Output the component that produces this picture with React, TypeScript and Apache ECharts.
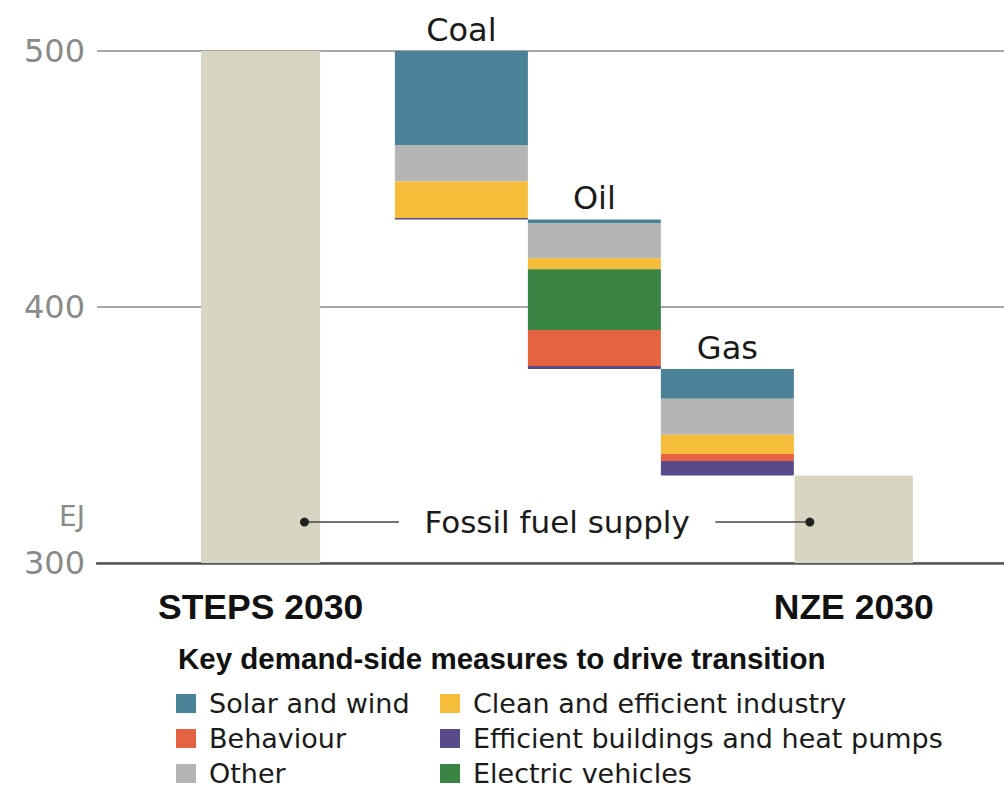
import React, { useEffect, useRef } from "react";
import * as echarts from "echarts";

// ---- data ----
const measureNames = [
  "Solar and wind",
  "Other",
  "Clean and efficient industry",
  "Electric vehicles",
  "Behaviour",
  "Efficient buildings and heat pumps",
];
const measureColors = ["#4a8298", "#b5b5b5", "#f5bd3a", "#3a8544", "#e66342", "#5b4a8b"];
const fuelNames = ["Coal", "Oil", "Gas"];
// values in EJ, same order as measureNames
const coalValues = [36.7, 14.3, 14.2, 0, 0, 0.6];
const oilValues = [1.6, 13.6, 4.3, 23.7, 14.0, 1.2];
const gasValues = [11.6, 14.1, 7.5, 0, 2.8, 5.6];
const totalLabels = ["STEPS 2030", "NZE 2030"];
const totalValues = [500, 334.2];
const yMin = 300;
const yMax = 500;
const yInterval = 100;
const unitLabel = "EJ";
const unitLabelValue = 318;
const annotationLabel = "Fossil fuel supply";
const annotationValue = 316;
const legendTitle = "Key demand-side measures to drive transition";
const legendColumn1 = ["Solar and wind", "Behaviour", "Other"];
const legendColumn2 = ["Clean and efficient industry", "Efficient buildings and heat pumps", "Electric vehicles"];

// ---- layout (x axis units: one fuel column = 1) ----
const xMax = 6.82;
const columnCenters = [1.23, 2.74, 3.74, 4.74, 5.69]; // STEPS, Coal, Oil, Gas, NZE
const columnWidths = [0.895, 1, 1, 1, 0.89];
const dotOffset = 0.33;
const annotationGap = 1.19;

const SANS = "DejaVu Sans";
const BOLD = "Liberation Sans";
const CHART_H = 860; // taller canvas, clipped to 789 by the wrapper

export default function App() {
  const ref = useRef<HTMLDivElement>(null);

  useEffect(() => {
    if (!ref.current) return;
    const chart = echarts.init(ref.current, undefined, { renderer: "svg" });

    const fuelValues = [coalValues, oilValues, gasValues];
    const measureData: number[][][] = measureNames.map(() => []);
    const fuelTops: number[][] = [];
    let level = totalValues[0];
    fuelValues.forEach((vals, f) => {
      const col = f + 1;
      fuelTops.push([col, level]);
      vals.forEach((v, m) => {
        const start = level;
        const end = level - v;
        if (v > 0) measureData[m].push([col, start, end]);
        level = end;
      });
    });

    const rectFor = (api: any, col: number, top: number, bottom: number) => {
      const c = columnCenters[col];
      const w = columnWidths[col];
      const p0 = api.coord([c - w / 2, top]);
      const p1 = api.coord([c + w / 2, bottom]);
      return { x: p0[0], y: p0[1], width: p1[0] - p0[0], height: p1[1] - p0[1] };
    };

    const measureSeries = measureNames.map((name, m) => ({
      type: "custom",
      name,
      itemStyle: { color: measureColors[m] },
      data: measureData[m],
      renderItem: (params: any, api: any) => ({
        type: "rect",
        shape: rectFor(api, api.value(0), api.value(1), api.value(2)),
        style: { fill: measureColors[m] },
      }),
    }));

    const totalsSeries = {
      type: "custom",
      name: "totals",
      data: [
        [0, totalValues[0]],
        [4, totalValues[1]],
      ],
      renderItem: (params: any, api: any) => {
        const col = api.value(0);
        const base = api.coord([columnCenters[col], yMin]);
        return {
          type: "group",
          children: [
            {
              type: "rect",
              shape: rectFor(api, col, api.value(1), yMin),
              style: { fill: "#d9d5c3" },
            },
            {
              type: "text",
              x: base[0],
              y: base[1] + 44,
              style: {
                text: totalLabels[params.dataIndex],
                fill: "#111",
                fontSize: 35.5,
                fontWeight: "bold",
                fontFamily: BOLD,
                align: "center",
                verticalAlign: "middle",
              },
            },
          ],
        };
      },
    };

    const fuelLabelSeries = {
      type: "custom",
      name: "fuelLabels",
      data: fuelTops,
      z: 5,
      renderItem: (params: any, api: any) => {
        const p = api.coord([columnCenters[api.value(0)], api.value(1)]);
        return {
          type: "text",
          x: p[0],
          y: p[1] - 21,
          style: {
            text: fuelNames[params.dataIndex],
            fill: "#1a1a1a",
            fontSize: 32,
            fontFamily: SANS,
            align: "center",
            verticalAlign: "middle",
          },
        };
      },
    };

    const annotationSeries = {
      type: "custom",
      name: "annotation",
      data: [[annotationValue]],
      z: 6,
      renderItem: (params: any, api: any) => {
        const v = api.value(0);
        const xl = columnCenters[0] + dotOffset;
        const xr = columnCenters[4] - dotOffset;
        const xm = (xl + xr) / 2;
        const pl = api.coord([xl, v]);
        const pr = api.coord([xr, v]);
        const pm = api.coord([xm, v]);
        const pa = api.coord([xm - annotationGap, v]);
        const pb = api.coord([xm + annotationGap, v]);
        const pe = api.coord([0, unitLabelValue]);
        const lineStyle = { stroke: "#444", lineWidth: 1.5 };
        return {
          type: "group",
          children: [
            { type: "line", shape: { x1: pl[0], y1: pl[1], x2: pa[0], y2: pa[1] }, style: lineStyle },
            { type: "line", shape: { x1: pb[0], y1: pb[1], x2: pr[0], y2: pr[1] }, style: lineStyle },
            { type: "circle", shape: { cx: pl[0], cy: pl[1], r: 4.5 }, style: { fill: "#222" } },
            { type: "circle", shape: { cx: pr[0], cy: pr[1], r: 4.5 }, style: { fill: "#222" } },
            {
              type: "text",
              x: pm[0],
              y: pm[1],
              style: {
                text: annotationLabel,
                fill: "#1a1a1a",
                fontSize: 31,
                fontFamily: SANS,
                align: "center",
                verticalAlign: "middle",
              },
            },
            {
              type: "text",
              x: pe[0] - 12,
              y: pe[1],
              style: {
                text: unitLabel,
                fill: "#8a8a8a",
                fontSize: 28,
                fontFamily: SANS,
                align: "right",
                verticalAlign: "middle",
              },
            },
          ],
        };
      },
    };

    const legendBase = {
      orient: "vertical",
      top: 686,
      padding: 0,
      itemGap: 0,
      itemWidth: 20,
      itemHeight: 19,
      icon: "rect",
      selectedMode: false,
      textStyle: {
        fontSize: 27,
        fontFamily: SANS,
        color: "#1a1a1a",
        lineHeight: 35,
        padding: [0, 0, 0, 8],
      },
    };

    chart.setOption({
      animation: false,
      color: measureColors,
      title: {
        text: legendTitle,
        left: 173,
        top: 638,
        textStyle: { fontSize: 29.5, fontWeight: "bold", fontFamily: BOLD, color: "#111" },
      },
      legend: [
        { ...legendBase, left: 176, data: legendColumn1 },
        { ...legendBase, left: 440, data: legendColumn2 },
      ],
      grid: { left: 97, right: 0, top: 51, bottom: CHART_H - 563 },
      xAxis: {
        type: "value",
        min: 0,
        max: xMax,
        axisLine: { show: true, lineStyle: { color: "#555", width: 2.5 } },
        axisTick: { show: false },
        axisLabel: { show: false },
        splitLine: { show: false },
      },
      yAxis: {
        type: "value",
        min: yMin,
        max: yMax,
        interval: yInterval,
        axisLine: { show: false },
        axisTick: { show: false },
        axisLabel: { fontSize: 32, fontFamily: SANS, color: "#8a8a8a", margin: 12 },
        splitLine: { show: true, lineStyle: { color: "#8a8a8a", width: 1.5 } },
      },
      series: [totalsSeries, ...measureSeries, fuelLabelSeries, annotationSeries],
    });

    return () => chart.dispose();
  }, []);

  return (
    <div
      style={{
        position: "absolute",
        left: 0,
        top: 0,
        width: 1004,
        height: 789,
        overflow: "hidden",
        background: "#fff",
      }}
    >
      <div ref={ref} style={{ width: 1004, height: CHART_H }} />
    </div>
  );
}
